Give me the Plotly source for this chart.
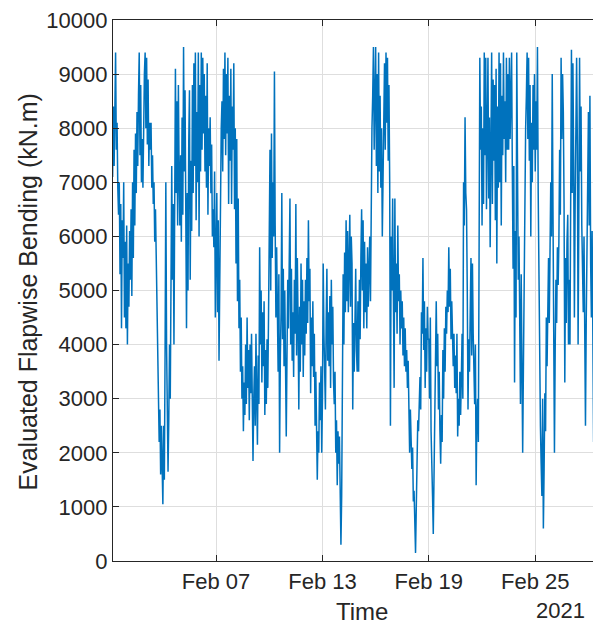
import pandas as pd
import plotly.graph_objects as go

# Evaluated flapwise bending moment (kN.m), hourly samples starting Feb 01 2021 00:00
series_start = "2021-02-01 00:00"
sample_step = "1h"
flapwise_knm = [
    7800, 8300, 7200, 8500, 7100, 8400, 7300, 9000, 9400, 7600, 8100, 6900,
    6400, 7000, 5300, 6600, 4300, 6300, 5600, 7000, 4500, 5900, 4300, 6200,   # Feb 01
    4000, 5500, 4700, 6100, 5200, 6500, 4900, 7000, 5600, 7600, 6200, 7900,
    6800, 8300, 7300, 8600, 9400, 7500, 8800, 7000, 7800, 6900, 8400, 9000,   # Feb 02
    9400, 8000, 9300, 7700, 8900, 7300, 8100, 7600, 8100, 6900, 7500, 6600,
    7000, 5900, 6500, 5600, 4800, 3600, 2900, 2200, 2800, 1600, 2500, 1100,   # Feb 03
    1050, 2500, 1500, 3900, 7000, 4000, 2400, 1650, 2600, 4000, 3000, 5500,
    7300, 5200, 6600, 4000, 6000, 9100, 6800, 8500, 6200, 8800, 7100, 6200,   # Feb 04
    7500, 5900, 8200, 6400, 9500, 7200, 8700, 6300, 4300, 6800, 5000, 7700,
    8700, 5200, 7400, 6100, 8800, 6800, 9200, 7300, 9400, 6300, 8300, 7000,   # Feb 05
    9400, 6000, 8800, 7200, 9400, 7600, 9300, 7900, 9000, 7200, 8600, 6900,
    9200, 6400, 8000, 7300, 8200, 6800, 7700, 6000, 6500, 5800, 7200, 4500,   # Feb 06
    5600, 6800, 4600, 6300, 3700, 5200, 7200, 8000, 8500, 7200, 9100, 7800,
    9400, 7500, 9000, 7900, 9300, 6600, 8600, 7400, 9100, 6600, 8400, 7600,   # Feb 07
    9200, 6500, 8000, 5500, 7800, 4800, 6700, 4300, 5200, 3500, 4500, 3000,
    3600, 2400, 3300, 2700, 4000, 2900, 4500, 3200, 3900, 2600, 4000, 3100,   # Feb 08
    4200, 2800, 1850, 3000, 3600, 2500, 4200, 3000, 2150, 3800, 2900, 5800,
    4000, 5000, 3300, 4600, 3600, 4800, 2700, 3900, 2900, 4100, 3200, 4500,   # Feb 09
    5600, 7600, 5000, 7900, 5600, 7000, 6000, 9050, 6200, 4500, 5800, 4500,
    3500, 5300, 2000, 3800, 4600, 6800, 4100, 5400, 3600, 5000, 3000, 2300,   # Feb 10
    3800, 5200, 4300, 5800, 6700, 4000, 5400, 3700, 4600, 3400, 5200, 4200,
    6600, 3800, 5600, 4400, 2800, 4700, 3500, 5500, 4000, 5200, 3400, 4800,   # Feb 11
    3800, 5200, 4200, 5600, 4400, 6300, 4800, 5400, 3100, 4500, 3600, 4800,
    3400, 4200, 2500, 3500, 2700, 1500, 2400, 2000, 3300, 2600, 3600, 2000,   # Feb 12
    3000, 5500, 4200, 3500, 2800, 4400, 5400, 3700, 4600, 3600, 4900, 3200,
    5200, 4000, 4700, 3300, 2900, 3500, 2000, 2600, 1400, 2400, 1800, 2300,   # Feb 13
    1500, 300, 1200, 2600, 5300, 4000, 5700, 4600, 6300, 4800, 6100, 4600,
    5600, 6400, 4700, 6000, 5500, 2800, 4400, 3500, 4400, 5400, 3900, 3500,   # Feb 14
    4800, 3500, 5200, 4100, 5600, 6500, 5000, 6300, 4300, 5900, 4600, 5500,
    4300, 5800, 4700, 5300, 6000, 4800, 7200, 8000, 8600, 9500, 7600, 9200,   # Feb 15
    9500, 7300, 9000, 6800, 9400, 7200, 8600, 6900, 8000, 6000, 7500, 8800,
    9200, 7600, 9400, 8100, 9300, 7400, 8800, 7000, 2500, 6000, 5000, 6700,   # Feb 16
    5500, 3200, 6700, 4600, 5500, 4200, 6200, 4800, 5300, 4000, 5000, 4300,
    4800, 3800, 4500, 3600, 4300, 3500, 3900, 3200, 3700, 2600, 2000, 2800,   # Feb 17
    2400, 1700, 2100, 1100, 1300, 600, 150, 1000, 2000, 2600, 2400, 3100,
    3400, 2800, 4600, 4200, 5600, 3900, 4800, 3200, 4300, 3500, 4700, 4100,   # Feb 18
    4100, 3000, 4500, 2400, 2000, 1200, 500, 1500, 2400, 3200, 4800, 3600,
    4200, 2800, 3500, 2400, 1800, 2700, 2200, 3900, 3000, 4300, 3500, 4700,   # Feb 19
    4200, 5000, 4600, 5800, 4700, 5400, 4100, 4800, 4400, 3600, 4200, 3200,
    3800, 3100, 4200, 2300, 3000, 2500, 3500, 2700, 3400, 4200, 3000, 7000,   # Feb 20
    6200, 8200, 6800, 6500, 5000, 2800, 4100, 3500, 4600, 5600, 3800, 5500,
    4200, 3300, 2900, 4000, 1400, 2700, 3000, 2200, 6500, 9300, 7600, 8400,   # Feb 21
    6200, 8000, 6600, 9400, 7500, 9300, 6500, 8700, 9300, 6700, 8200, 5800,
    7500, 9400, 6600, 8900, 7400, 8800, 6300, 9100, 5500, 8400, 6900, 9400,   # Feb 22
    7000, 9200, 6200, 8600, 7500, 9400, 7800, 8500, 7000, 9300, 7600, 9000,
    7600, 9300, 7800, 8800, 9400, 7200, 5400, 7300, 3300, 6100, 4500, 9400,   # Feb 23
    6500, 5200, 6000, 4400, 2900, 5300, 3800, 2000, 3600, 5800, 7000, 8000,
    8600, 9400, 7800, 9300, 7400, 8800, 6000, 8100, 7000, 8800, 7600, 9000,   # Feb 24
    7200, 8500, 7600, 9500, 6800, 5000, 3400, 2500, 1800, 1200, 3000, 600,
    1700, 3100, 2400, 4500, 3600, 4800, 5600, 4400, 5800, 7000, 6000, 9000,   # Feb 25
    6500, 4800, 2000, 3900, 5200, 4400, 5800, 5100, 5900, 7600, 6400, 9300,
    7800, 9000, 8300, 6600, 3300, 5600, 4400, 5900, 6400, 4000, 5200, 4000,   # Feb 26
    7200, 9450, 6800, 9200, 7400, 4500, 6600, 8300, 9300, 7700, 4000, 6400,
    9300, 7200, 8400, 6200, 5600, 4600, 6000, 4200, 2500, 4400, 5400, 6800,   # Feb 27
    8300, 6200, 8600, 5500, 4500, 6100, 3600, 2200, 4800, 6500, 5600, 9400,
    8000, 9400, 8600, 9300, 7600, 8800, 7200, 9000, 7800, 8900, 7400, 8600,   # Feb 28
]
times = pd.date_range(series_start, periods=len(flapwise_knm), freq=sample_step)

x_tick_dates = ["2021-02-07", "2021-02-13", "2021-02-19", "2021-02-25"]
x_tick_labels = ["Feb 07", "Feb 13", "Feb 19", "Feb 25"]
y_tick_values = list(range(0, 10001, 1000))
y_tick_labels = [str(v) for v in y_tick_values]
x_view = ["2021-02-01 04:30", "2021-02-28 17:00"]
y_view = [0, 10000]

y_title = "Evaluated Flapwise Bending (kN.m)"
x_title = "Time"
year_label = "2021"

font_family = "Liberation Sans, Arial, sans-serif"
ink = "#262626"

# the page body has an 8px margin, so the figure is sized/offset to compensate
fig = go.Figure()
fig.add_trace(go.Scatter(
    x=times, y=flapwise_knm, mode="lines",
    line=dict(color="#0072BD", width=1.5),
    showlegend=False, hoverinfo="skip",
))

fig.update_layout(
    width=593, height=616,
    margin=dict(l=105, r=0, t=12, b=63, autoexpand=False),
    paper_bgcolor="white", plot_bgcolor="white",
    font=dict(family=font_family, size=22, color=ink),
)
fig.update_xaxes(
    type="date", range=x_view, automargin=False,
    tickvals=x_tick_dates, ticktext=x_tick_labels, ticklabeloverflow="allow",
    ticks="inside", ticklen=6, tickcolor=ink, tickwidth=1,
    showline=True, linecolor=ink, linewidth=1.2, mirror="ticks",
    showgrid=True, gridcolor="#dedede", gridwidth=1,
    zeroline=False, tickfont=dict(size=22, color=ink),
)
fig.update_yaxes(
    range=y_view, automargin=False,
    tickvals=y_tick_values, ticktext=y_tick_labels, ticklabeloverflow="allow",
    ticks="inside", ticklen=6, tickcolor=ink, tickwidth=1,
    showline=True, linecolor=ink, linewidth=1.2, mirror=False,
    showgrid=True, gridcolor="#dedede", gridwidth=1,
    zeroline=False, tickfont=dict(size=22, color=ink),
)

plot_w = 593 - 105
fig.add_annotation(
    text=y_title, xref="paper", yref="paper", x=0, y=0.5,
    xanchor="center", yanchor="middle", xshift=-86, yshift=-2, textangle=-90,
    showarrow=False, font=dict(size=25, color=ink, family=font_family),
)
fig.add_annotation(
    text=x_title, xref="paper", yref="paper", x=(362 - 113) / plot_w, y=0,
    xanchor="center", yanchor="middle", yshift=-50,
    showarrow=False, font=dict(size=24, color=ink, family=font_family),
)
fig.add_annotation(
    text=year_label, xref="paper", yref="paper", x=(587 - 113) / plot_w, y=0,
    xanchor="right", yanchor="middle", yshift=-49,
    showarrow=False, font=dict(size=22, color=ink, family=font_family),
)

fig.write_html("out.html")
